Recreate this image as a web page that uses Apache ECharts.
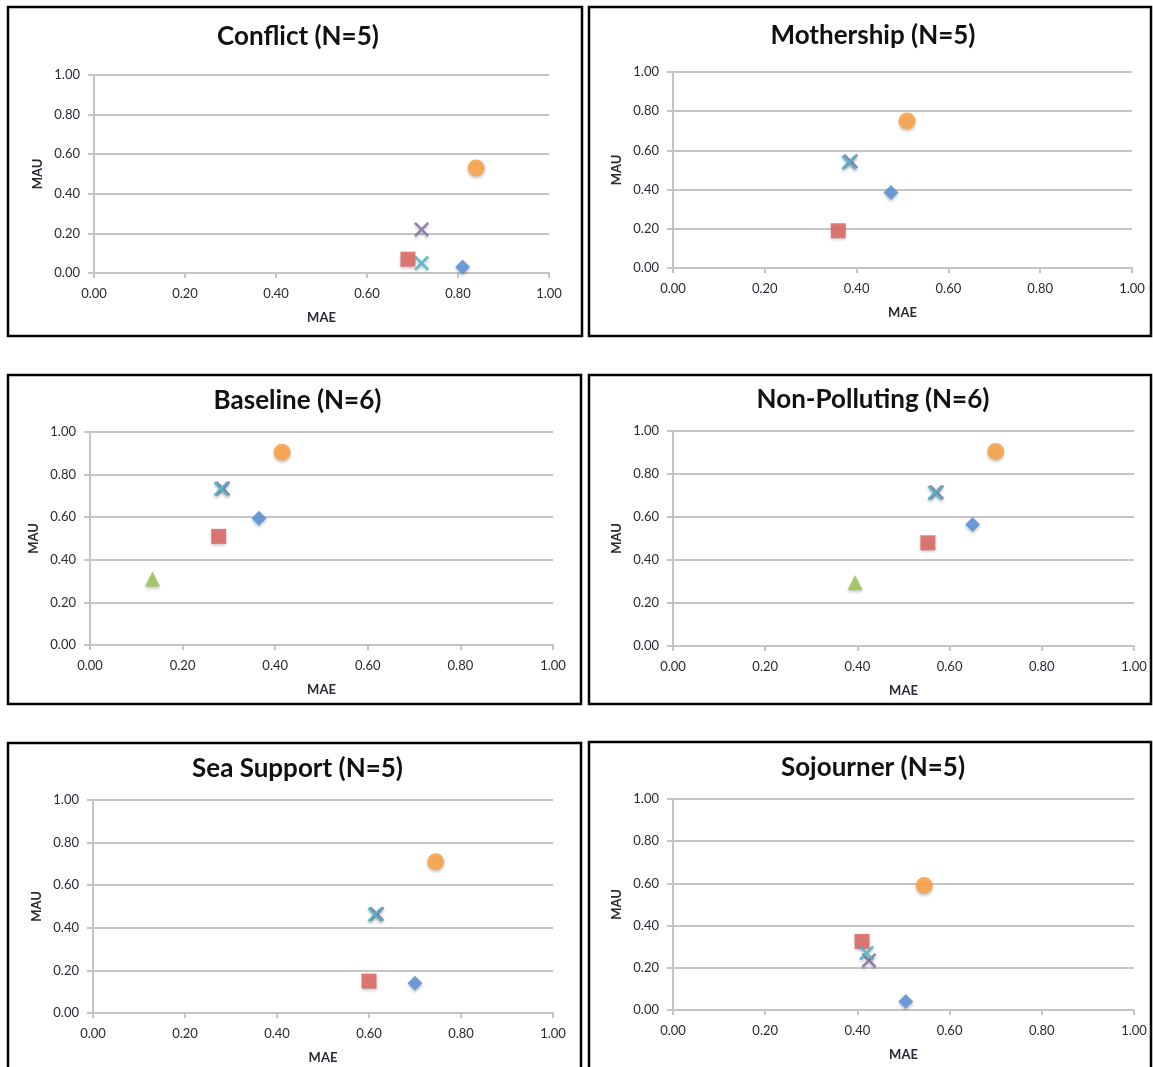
<!DOCTYPE html>
<html>
<head>
<meta charset="utf-8">
<script src="https://cdn.jsdelivr.net/npm/echarts@6/dist/echarts.min.js"></script>
<style>
  html, body { margin: 0; padding: 0; background: #fff; }
  #chart { width: 1153px; height: 1067px; }
</style>
</head>
<body>
<div id="chart"></div>
<script>
// panel titles, in reading order
const panelTitles = [
  "Conflict (N=5)", "Mothership (N=5)",
  "Baseline (N=6)", "Non-Polluting (N=6)",
  "Sea Support (N=5)", "Sojourner (N=5)"
];
const tickValues = [0, 0.2, 0.4, 0.6, 0.8, 1.0];

// [MAE, MAU] per panel; null where the panel has no such point
const blueDiamond   = [[0.81, 0.03], [0.475, 0.385], [0.365, 0.595], [0.65, 0.565], [0.70, 0.14], [0.505, 0.04]];
const redSquare     = [[0.69, 0.07], [0.36, 0.19], [0.278, 0.51], [0.553, 0.48], [0.60, 0.15], [0.41, 0.325]];
const greenTriangle = [null, null, [0.135, 0.31], [0.395, 0.295], null, null];
const purpleCross   = [[0.72, 0.22], [0.387, 0.545], [0.287, 0.735], [0.572, 0.715], [0.617, 0.465], [0.425, 0.235]];
const tealCross     = [[0.72, 0.05], [0.383, 0.538], [0.283, 0.733], [0.568, 0.713], [0.613, 0.462], [0.42, 0.27]];
const orangeCircle  = [[0.84, 0.53], [0.51, 0.75], [0.415, 0.905], [0.70, 0.905], [0.745, 0.71], [0.545, 0.59]];

// plot areas and frames (px)
const grids = [
  { left: 94, top: 75, width: 455, height: 198 },
  { left: 673, top: 72, width: 459, height: 196 },
  { left: 90, top: 432, width: 463, height: 213 },
  { left: 673, top: 431, width: 461, height: 215 },
  { left: 93, top: 800, width: 460, height: 213 },
  { left: 673, top: 799, width: 461, height: 211 }
];
const frames = [
  [8, 7, 574, 329], [589, 7, 562, 329],
  [8, 375, 573, 329], [589, 375, 562, 329],
  [8, 743, 573, 330], [589, 742, 562, 330]
];
const titleY = [35, 34, 399, 398, 767, 766];

const crossPath = "path://M0,1.2L1.2,0L5,3.8L8.8,0L10,1.2L6.2,5L10,8.8L8.8,10L5,6.2L1.2,10L0,8.8L3.8,5Z";
const font = "Lato, 'Open Sans', sans-serif";
const gridGray = "#c4c4c4";
const labelColor = "#2a2a35";

const chart = echarts.init(document.getElementById("chart"));

const seriesDefs = [
  { name: "Diamond", data: blueDiamond, symbol: "diamond", size: 15, color: "#5f95d6" },
  { name: "Square", data: redSquare, symbol: "rect", size: 15, color: "#dc6a66" },
  { name: "Triangle", data: greenTriangle, symbol: "triangle", size: 15, color: "#9cc45c" },
  { name: "Cross A", data: purpleCross, symbol: crossPath, size: 15, color: "#8a74ad" },
  { name: "Cross B", data: tealCross, symbol: crossPath, size: 15, color: "#4fb6c8" },
  { name: "Circle", data: orangeCircle, symbol: "circle", size: 17, color: "#f8a24c" }
];

const option = {
  animation: false,
  title: panelTitles.map((t, i) => ({
    text: t,
    left: frames[i][0] + frames[i][2] / 2 - 2,
    top: titleY[i] - 16,
    textAlign: "center",
    textStyle: { fontFamily: font, fontWeight: "bold", fontSize: 26, color: "#111" }
  })),
  grid: grids.map((g) => ({ ...g, containLabel: false })),
  xAxis: grids.map((g, i) => ({
    gridIndex: i,
    type: "value",
    min: 0,
    max: 1,
    interval: 0.2,
    name: "MAE",
    nameLocation: "middle",
    nameGap: 38,
    nameTextStyle: { fontFamily: font, fontWeight: "bold", fontSize: 13, color: labelColor },
    axisLine: { show: true, lineStyle: { color: gridGray, width: 2 } },
    axisTick: { show: true, length: 5, lineStyle: { color: gridGray, width: 2 } },
    axisLabel: {
      margin: 14,
      fontFamily: font,
      fontSize: 13,
      color: labelColor,
      formatter: (v) => v.toFixed(2)
    },
    splitLine: { show: false }
  })),
  yAxis: grids.map((g, i) => ({
    gridIndex: i,
    type: "value",
    min: 0,
    max: 1,
    interval: 0.2,
    name: "MAU",
    nameLocation: "middle",
    nameGap: 50,
    nameTextStyle: { fontFamily: font, fontWeight: "bold", fontSize: 13, color: labelColor },
    axisLine: { show: true, lineStyle: { color: gridGray, width: 2 } },
    axisTick: { show: true, length: 6, lineStyle: { color: gridGray, width: 2 } },
    axisLabel: {
      margin: 14,
      fontFamily: font,
      fontSize: 13,
      color: labelColor,
      formatter: (v) => v.toFixed(2)
    },
    splitLine: { show: true, lineStyle: { color: gridGray, width: 2 } }
  })),
  series: [],
  graphic: frames.map((f) => ({
    type: "rect",
    shape: { x: f[0], y: f[1], width: f[2], height: f[3] },
    style: { fill: "none", stroke: "#000", lineWidth: 2.5 },
    silent: true
  }))
};

grids.forEach((g, i) => {
  seriesDefs.forEach((s) => {
    if (!s.data[i]) return;
    option.series.push({
      name: s.name,
      type: "scatter",
      xAxisIndex: i,
      yAxisIndex: i,
      symbol: s.symbol,
      symbolSize: s.size,
      data: [s.data[i]],
      itemStyle: {
        color: s.color,
        opacity: 0.9,
        shadowBlur: 3,
        shadowColor: "rgba(0,0,0,0.25)",
        shadowOffsetY: 2
      }
    });
  });
});

chart.setOption(option);
window.addEventListener("resize", () => {
  chart.resize();
});
</script>
</body>
</html>
